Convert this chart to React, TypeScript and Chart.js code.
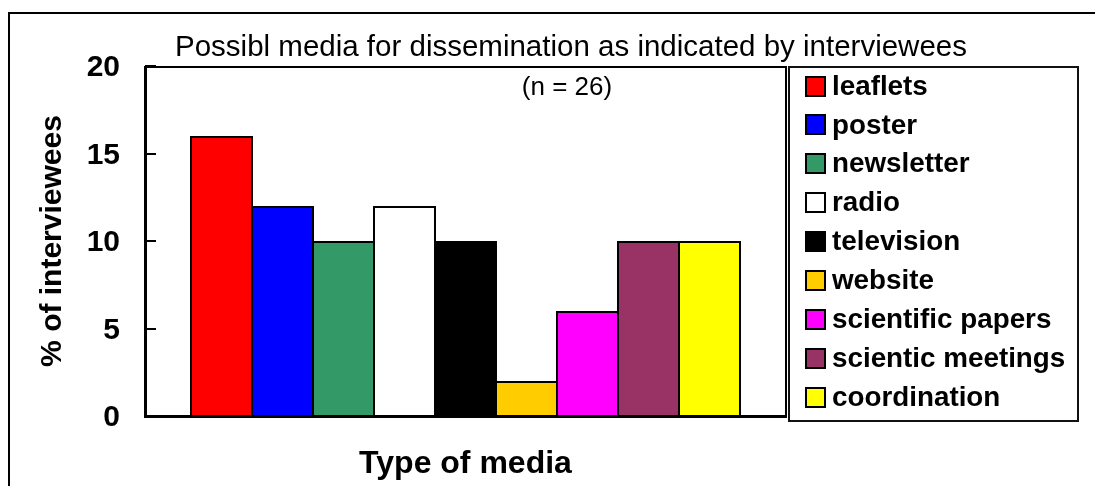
import React, { useEffect, useRef } from "react";
import { Chart, registerables } from "chart.js";

Chart.register(...registerables);

const FONT = '"Liberation Sans", Arial, Helvetica, sans-serif';

// Data
const categories = ["Type of media"];
const mediaTypes = [
  "leaflets",
  "poster",
  "newsletter",
  "radio",
  "television",
  "website",
  "scientific papers",
  "scientic meetings",
  "coordination",
];
const sharePercent = [16, 12, 10, 12, 10, 2, 6, 10, 10];
const mediaColors = [
  "#FF0000",
  "#0000FF",
  "#339966",
  "#FFFFFF",
  "#000000",
  "#FFCC00",
  "#FF00FF",
  "#993366",
  "#FFFF00",
];
const yTickValues = [0, 5, 10, 15, 20];
const chartTitle = "Possibl media for dissemination as indicated by interviewees";
const chartSubtitle = "(n = 26)";
const xAxisTitle = "Type of media";
const yAxisTitle = "% of interviewees";

// Canvas geometry
const W = 1095;
const H = 486;
const PLOT_LEFT = 145;
const PLOT_TOP = 66;
const PLOT_RIGHT = 786;
const PLOT_BOTTOM = 416;

const decorPlugin = {
  id: "decor",
  beforeDraw(chart: any) {
    const ctx = chart.ctx;
    ctx.save();
    ctx.fillStyle = "#FFFFFF";
    ctx.fillRect(0, 0, W, H);
    // outer chart border (top and left visible)
    ctx.strokeStyle = "#000";
    ctx.lineWidth = 2;
    ctx.beginPath();
    ctx.moveTo(9, H);
    ctx.lineTo(9, 13);
    ctx.lineTo(W, 13);
    ctx.stroke();
    ctx.restore();
  },
  afterDatasetsDraw(chart: any) {
    const { ctx, chartArea: a, scales } = chart;
    const y = scales.y;
    ctx.save();
    ctx.strokeStyle = "#000";
    // plot area frame: top and right
    ctx.lineWidth = 2;
    ctx.beginPath();
    ctx.moveTo(a.left, a.top + 1);
    ctx.lineTo(a.right, a.top + 1);
    ctx.lineTo(a.right, a.bottom);
    ctx.stroke();
    // axes: left and bottom
    ctx.lineWidth = 3;
    ctx.beginPath();
    ctx.moveTo(a.left + 0.5, a.top);
    ctx.lineTo(a.left + 0.5, a.bottom + 0.5);
    ctx.lineTo(a.right + 1, a.bottom + 0.5);
    ctx.stroke();
    // inward tick marks
    ctx.lineWidth = 2;
    yTickValues.forEach((v) => {
      const py = Math.round(y.getPixelForValue(v));
      ctx.beginPath();
      ctx.moveTo(a.left, py);
      ctx.lineTo(a.left + 11, py);
      ctx.stroke();
    });
    ctx.restore();
  },
  afterDraw(chart: any) {
    const ctx = chart.ctx;
    ctx.save();
    ctx.fillStyle = "#000";
    ctx.textBaseline = "middle";
    ctx.textAlign = "center";
    // title
    ctx.font = `29.5px ${FONT}`;
    ctx.fillText(chartTitle, 571, 48);
    ctx.font = `26px ${FONT}`;
    ctx.fillText(chartSubtitle, 567, 88);

    // legend box
    const lx = 789;
    const ly = 67;
    const lw = 289;
    const lh = 354;
    ctx.fillStyle = "#FFFFFF";
    ctx.fillRect(lx, ly, lw, lh);
    ctx.strokeStyle = "#111";
    ctx.lineWidth = 2;
    ctx.strokeRect(lx, ly, lw, lh);

    ctx.textAlign = "left";
    ctx.font = `bold 27.8px ${FONT}`;
    chart.data.datasets.forEach((ds: any, i: number) => {
      const cy = 86 + i * 38.9;
      ctx.fillStyle = ds.backgroundColor;
      ctx.fillRect(806, Math.round(cy - 9.5), 19, 19);
      ctx.strokeStyle = "#000";
      ctx.lineWidth = 2;
      ctx.strokeRect(806, Math.round(cy - 9.5), 19, 19);
      ctx.fillStyle = "#000";
      ctx.fillText(ds.label, 832, cy + 1);
    });
    ctx.restore();
  },
};

export default function App() {
  const canvasRef = useRef<HTMLCanvasElement | null>(null);

  useEffect(() => {
    if (!canvasRef.current) return;
    const chart = new Chart(canvasRef.current, {
      type: "bar",
      data: {
        labels: categories,
        datasets: mediaTypes.map((label, i) => ({
          label,
          data: [sharePercent[i]],
          backgroundColor: mediaColors[i],
          borderColor: "#000000",
          borderWidth: 2,
          inflateAmount: 0,
          barPercentage: 63 / 61,
          categoryPercentage: 549 / 641,
        })),
      },
      options: {
        responsive: false,
        animation: false,
        events: [],
        layout: {
          padding: { left: 0, top: PLOT_TOP, right: W - PLOT_RIGHT, bottom: 0 },
        },
        plugins: {
          legend: { display: false },
          title: { display: false },
          tooltip: { enabled: false },
        },
        scales: {
          x: {
            grid: { display: false, drawTicks: false },
            border: { display: false },
            ticks: { display: false },
            title: {
              display: true,
              text: xAxisTitle,
              color: "#000",
              font: { family: FONT, size: 32, weight: "bold" },
              padding: { top: 0, bottom: 3 },
            },
            afterFit: (s: any) => {
              s.height = H - PLOT_BOTTOM;
            },
          },
          y: {
            min: 0,
            max: 20,
            afterBuildTicks: (s: any) => {
              s.ticks = yTickValues.map((v) => ({ value: v }));
            },
            grid: { display: false, drawTicks: false },
            border: { display: false },
            ticks: {
              color: "#000",
              font: { family: FONT, size: 30, weight: "bold" },
              padding: 25,
              labelOffset: 2,
            },
            title: {
              display: true,
              text: yAxisTitle,
              color: "#000",
              font: { family: FONT, size: 30, weight: "bold" },
              padding: { top: 35, bottom: 0 },
            },
            afterFit: (s: any) => {
              s.width = PLOT_LEFT;
            },
          },
        },
      },
      plugins: [decorPlugin],
    } as any);
    return () => chart.destroy();
  }, []);

  return (
    <div style={{ position: "absolute", left: 0, top: 0, width: W, height: H }}>
      <canvas ref={canvasRef} width={W} height={H} style={{ display: "block" }} />
    </div>
  );
}
